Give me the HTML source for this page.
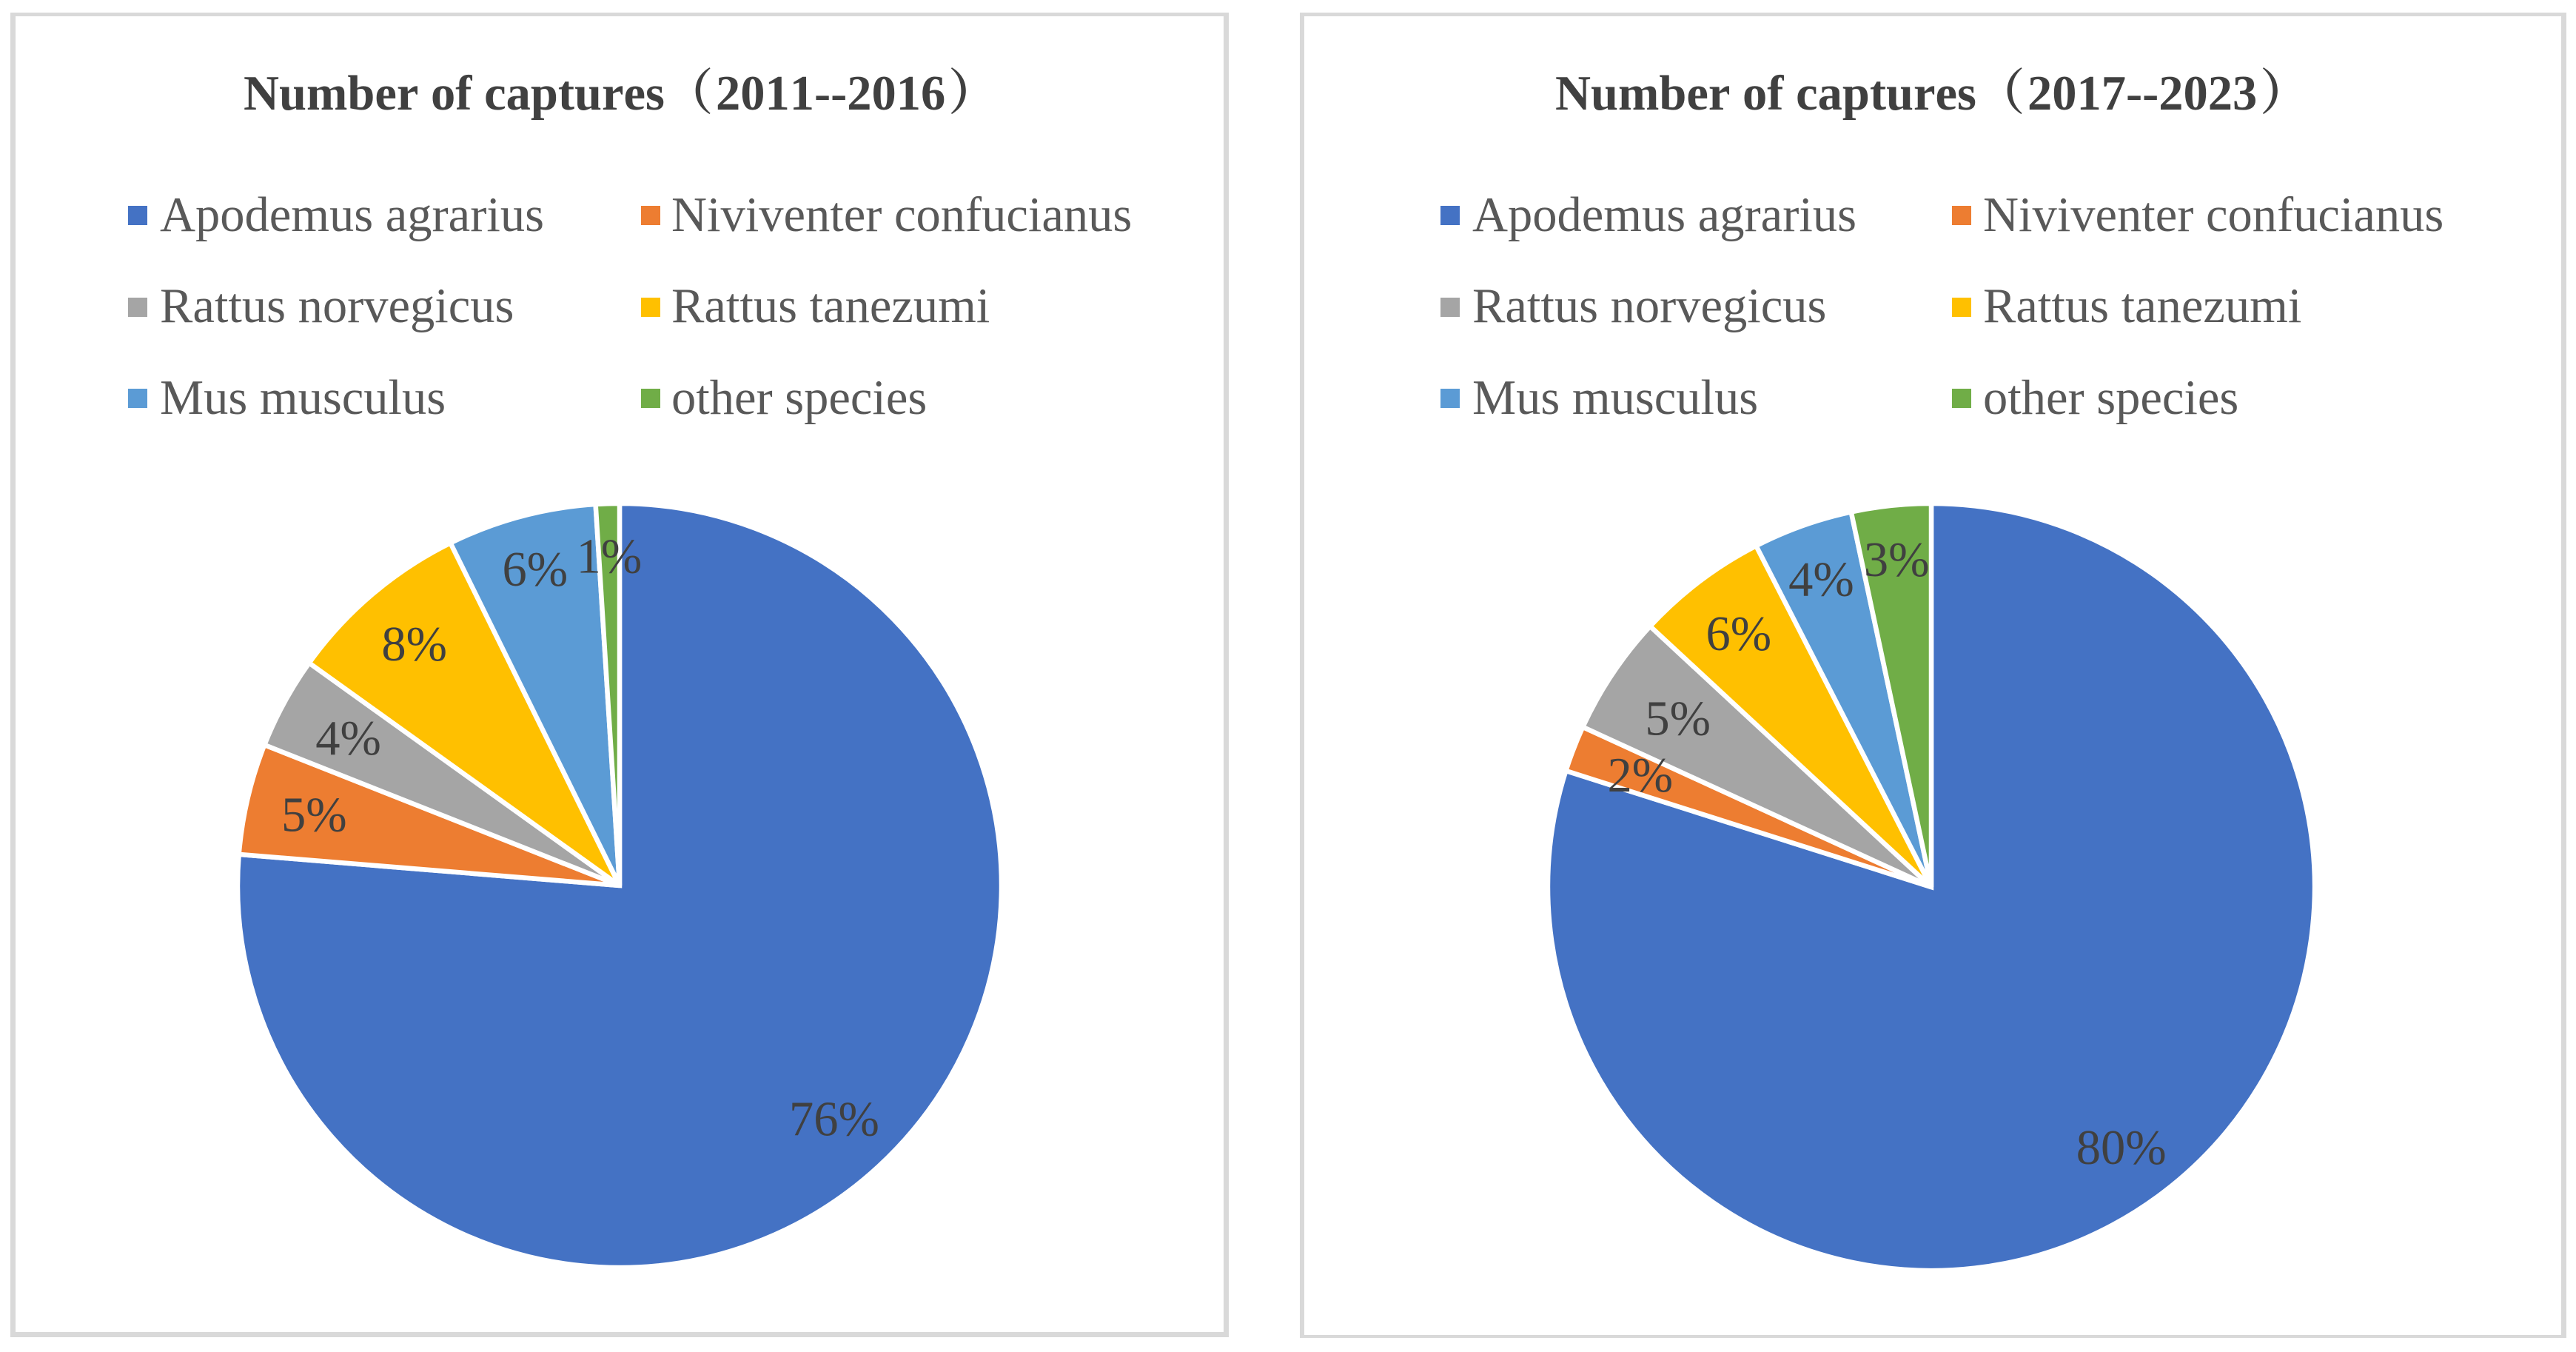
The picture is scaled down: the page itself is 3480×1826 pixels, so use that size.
<!DOCTYPE html>
<html lang="en">
<head>
<meta charset="utf-8">
<title>Number of captures</title>
<style>
html,body{margin:0;padding:0;background:#fff;width:3480px;height:1826px;overflow:hidden}
svg{display:block}
text{font-family:"Liberation Serif","Noto Serif CJK SC",serif;font-size:66.5px;font-kerning:none}
</style>
</head>
<body>
<svg id="figure" xmlns="http://www.w3.org/2000/svg" width="3480" height="1826" viewBox="0 0 3480 1826">
<rect x="0" y="0" width="3480" height="1826" fill="#ffffff"/>
</svg>
<script>
const speciesNames = ["Apodemus agrarius", "Niviventer confucianus", "Rattus norvegicus", "Rattus tanezumi", "Mus musculus", "other species"];
const capturesEarly = [76.3, 4.7, 3.9, 7.8, 6.3, 1.0];
const capturesLate = [79.9, 1.95, 5.05, 5.55, 4.2, 3.35];
const titleHead = "Number of captures";
const periodEarly = "2011--2016";
const periodLate = "2017--2023";
const palette = ["#4472C4", "#ED7D31", "#A5A5A5", "#FFC000", "#5B9BD5", "#70AD47"];

const SVG_NS = "http://www.w3.org/2000/svg";
const figure = document.getElementById("figure");

function make(tag, attrs, parent) {
  const el = document.createElementNS(SVG_NS, tag);
  for (const k in attrs) el.setAttribute(k, attrs[k]);
  parent.appendChild(el);
  return el;
}

function slug(s) {
  return s.toLowerCase().replace(/[^a-z0-9]+/g, "-");
}

function angleScale(value, total) {
  return value / total * Math.PI * 2;
}

function polar(layout, angle, radius) {
  return [layout.cx + Math.sin(angle) * radius, layout.cy - Math.cos(angle) * radius];
}

function labelRadius(angle, fit) {
  const a = 44, b = 23;
  const s = Math.abs(Math.sin(angle)), c = Math.abs(Math.cos(angle));
  const p = a * s + b * c;
  return -p + Math.sqrt(p * p - (a * a + b * b - fit * fit));
}

function titlePart(parent, text, x) {
  const part = make("tspan", { x: x }, parent);
  part.textContent = text;
  return part;
}

function drawChart(prefix, period, values, layout) {
  const group = make("g", {}, figure);
  
  

  const frame = make("rect", {
    x: layout.outer[0], y: layout.outer[1],
    width: layout.outer[2] - layout.outer[0], height: layout.outer[3] - layout.outer[1],
    fill: "#d9d9d9"
  }, group);
  
  

  const inner = make("rect", {
    x: layout.inner[0], y: layout.inner[1],
    width: layout.inner[2] - layout.inner[0], height: layout.inner[3] - layout.inner[1],
    fill: "#ffffff"
  }, group);
  
  

  const titleEl = make("text", { y: 148, "font-weight": "bold", fill: "#404040" }, group);
  
  
  titlePart(titleEl, titleHead, layout.cx - 508);
  titlePart(titleEl, "（", layout.cx + 60);
  titlePart(titleEl, period, layout.cx + 130);
  titlePart(titleEl, "）", layout.cx + 444);

  speciesNames.forEach(function (name, i) {
    const col = i % 2, row = Math.floor(i / 2);
    const swatch = make("rect", {
      x: layout.legendMarkX[col], y: layout.legendMarkY[row], width: 26, height: 26, fill: palette[i]
    }, group);
    
    

    const entry = make("text", {
      x: layout.legendTextX[col], y: layout.legendBase[row], fill: "#595959"
    }, group);
    
    
    entry.textContent = name;
  });

  const total = values.reduce(function (a, b) { return a + b; }, 0);
  let start = 0;
  const mids = [];
  values.forEach(function (v, i) {
    const sweep = angleScale(v, total);
    const end = start + sweep;
    const p0 = polar(layout, start, layout.r);
    const p1 = polar(layout, end, layout.r);
    const large = sweep > Math.PI ? 1 : 0;
    const d = "M" + layout.cx + " " + layout.cy + "L" + p0[0] + " " + p0[1] +
      "A" + layout.r + " " + layout.r + " 0 " + large + " 1 " + p1[0] + " " + p1[1] + "Z";
    const slice = make("path", {
      d: d, fill: palette[i], stroke: "#ffffff", "stroke-width": 6.5
    }, group);
    
    
    mids.push(start + sweep / 2);
    start = end;
  });

  values.forEach(function (v, i) {
    const angle = mids[i];
    const pos = polar(layout, angle, labelRadius(angle, layout.r - 42) - layout.labelInset[i]);
    const label = make("text", {
      x: pos[0], y: pos[1] + 23, "text-anchor": "middle", fill: "#404040"
    }, group);
    
    
    label.textContent = Math.round(v / total * 100) + "%";
  });
}

drawChart("early", periodEarly, capturesEarly, {
  outer: [14, 17, 1660, 1806], inner: [21, 22, 1653, 1799],
  cx: 837, cy: 1196, r: 516,
  legendMarkX: [173, 866], legendTextX: [216, 907],
  legendMarkY: [278, 402, 525], legendBase: [312, 435, 559],
  labelInset: [-1, 2, 7, -1, -4, 2]
});

drawChart("late", periodLate, capturesLate, {
  outer: [1756, 17, 3467, 1807], inner: [1762, 22, 3460, 1803],
  cx: 2609, cy: 1198, r: 518,
  legendMarkX: [1946, 2637], legendTextX: [1989, 2679],
  legendMarkY: [278, 402, 525], legendBase: [312, 435, 559],
  labelInset: [-4, 5, 15, 0, -4, 1]
});
</script>
</body>
</html>
